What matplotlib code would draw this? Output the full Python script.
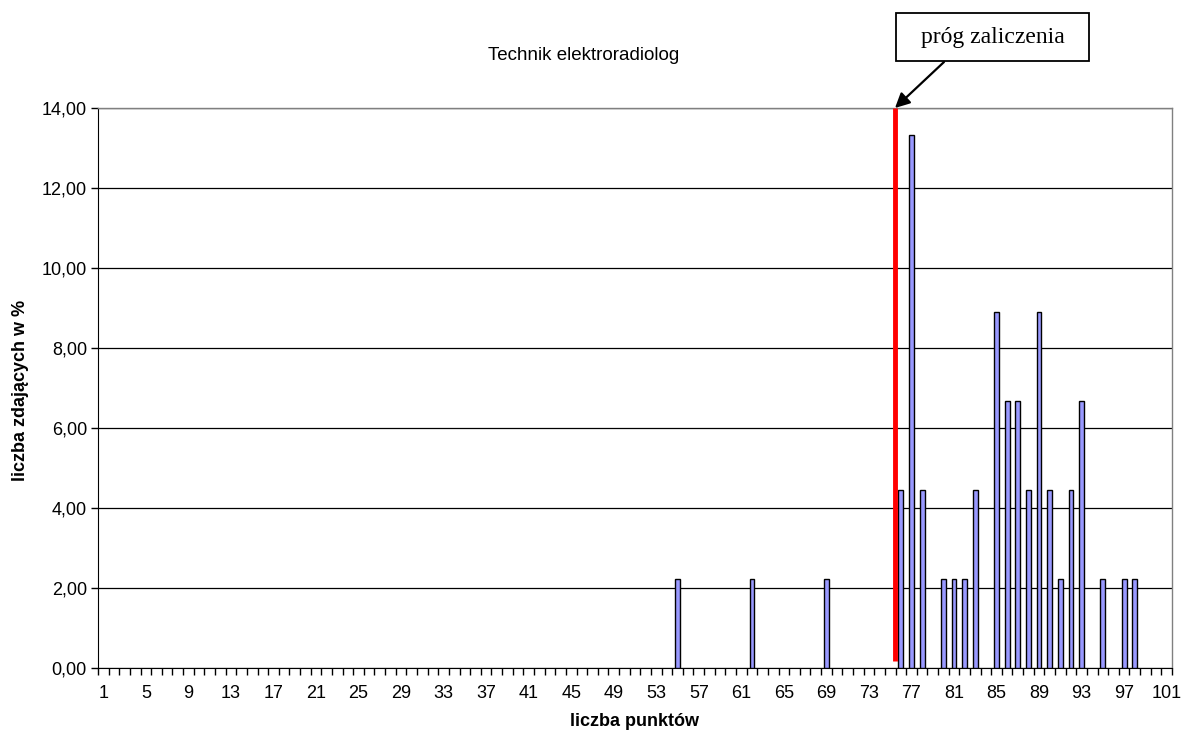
import matplotlib
matplotlib.use("Agg")
import matplotlib.pyplot as plt
from matplotlib.ticker import FuncFormatter, FixedLocator
from matplotlib.patches import Rectangle

# data
categories = list(range(1, 102))
bar_points = [55, 62, 69, 76, 77, 78, 80, 81, 82, 83, 85, 86, 87, 88, 89, 90, 91, 92, 93, 95, 97, 98]
bar_values = [2.22, 2.22, 2.22, 4.44, 13.33, 4.44, 2.22, 2.22, 2.22, 4.44, 8.89, 6.67, 6.67, 4.44,
              8.89, 4.44, 2.22, 4.44, 6.67, 2.22, 2.22, 2.22]
xtick_labels = list(range(1, 102, 4))
ytick_values = [0, 2, 4, 6, 8, 10, 12, 14]
threshold = 75.45
title = "Technik elektroradiolog"
xlabel = "liczba punktów"
ylabel = "liczba zdających w %"
annot = "próg zaliczenia"

plt.rcParams['font.family'] = ['Liberation Sans', 'DejaVu Sans']

W, H = 1182, 733
fig = plt.figure(figsize=(W / 100, H / 100), dpi=100)
ax = fig.add_axes([98 / W, 65 / H, (1172 - 98) / W, (668 - 108) / H])

ax.bar(bar_points, bar_values, width=0.45, color='#9999FF', edgecolor='black', linewidth=1.0, zorder=3)
ax.plot([threshold, threshold], [0.17, 14], color='#FF0000', linewidth=3.5, zorder=4, solid_capstyle='butt')

ax.set_xlim(0.5, 101.5)
ax.set_ylim(0, 14)
ax.set_yticks(ytick_values)
ax.yaxis.set_major_formatter(FuncFormatter(lambda v, p: f"{v:.2f}".replace('.', ',')))
ax.set_xticks(xtick_labels)
ax.set_xticklabels([str(v) for v in xtick_labels])
ax.xaxis.set_minor_locator(FixedLocator([c - 0.5 for c in categories] + [101.5]))
ax.tick_params(axis='x', which='major', length=0, pad=12, labelsize=13)
ax.tick_params(axis='x', which='minor', length=5, width=1, direction='out', color='black')
ax.tick_params(axis='y', which='major', length=5, width=1, direction='out', labelsize=13, pad=3)

ax.grid(axis='y', color='black', linewidth=0.9, zorder=0)
ax.set_axisbelow(True)
for s in ['top', 'right']:
    ax.spines[s].set_color('#808080')
    ax.spines[s].set_linewidth(1)
ax.spines['left'].set_color('black')
ax.spines['bottom'].set_color('black')

fig.text(635 / W, 1 - 721 / H, xlabel, ha='center', va='center', fontsize=13, fontweight='bold')
fig.text(21 / W, 1 - 390 / H, ylabel, ha='center', va='center', fontsize=13, fontweight='bold',
         rotation=90)
fig.text(584 / W, 1 - 55 / H, title, ha='center', va='center', fontsize=13.5)

# annotation box
bx0, by0, bx1, by1 = 896, 13, 1089, 61
fig.patches.append(Rectangle((bx0 / W, 1 - by1 / H), (bx1 - bx0) / W, (by1 - by0) / H,
                             transform=fig.transFigure, fc='white', ec='black', lw=1.3, zorder=5))
fig.text((bx0 + bx1) / 2 / W, 1 - 38 / H, annot, ha='center', va='center', fontsize=17,
         family=['Liberation Serif'], zorder=6)
ax.annotate('', xy=(threshold, 14), xycoords='data',
            xytext=(944 / W, 1 - 62 / H), textcoords='figure fraction',
            arrowprops=dict(arrowstyle='-|>', color='black', lw=1.6, mutation_scale=22,
                            shrinkA=0, shrinkB=0),
            annotation_clip=False, zorder=5)

fig.savefig('out.png', dpi=100)
